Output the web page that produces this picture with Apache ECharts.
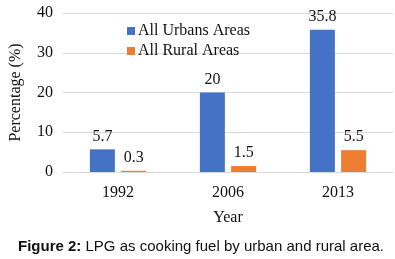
<!DOCTYPE html>
<html>
<head>
<meta charset="utf-8">
<script src="https://cdn.jsdelivr.net/npm/echarts@6/dist/echarts.min.js"></script>
<style>
  html, body { margin: 0; padding: 0; background: #fff; }
  #chart { width: 395px; height: 259px; }
</style>
</head>
<body>
<div id="chart"></div>
<script>
var years = ["1992", "2006", "2013"];
var urbanValues = [5.7, 20, 35.8];
var ruralValues = [0.3, 1.5, 5.5];
var yTicks = [0, 10, 20, 30, 40];

var chartDom = document.getElementById("chart");
var myChart = echarts.init(chartDom);
var option;

var serif = "Liberation Serif";

option = {
  animation: false,
  title: {
    text: "{b|Figure 2:} LPG as cooking fuel by urban and rural area.",
    left: 13,
    top: 234,
    textStyle: {
      rich: {
        b: { fontFamily: "Liberation Sans", fontWeight: "bold", fontSize: 15, color: "#111" },
      },
      fontFamily: "Liberation Sans",
      fontWeight: "normal",
      fontSize: 15,
      color: "#111",
    },
  },
  legend: {
    orient: "vertical",
    left: 122,
    top: 18,
    itemWidth: 8,
    itemHeight: 8,
    itemGap: 4,
    icon: "rect",
    textStyle: { fontFamily: serif, fontSize: 16, color: "#111", padding: [0, 0, 0, -2] },
    data: ["All Urbans Areas", "All Rural Areas"],
  },
  grid: {
    left: 57,
    right: 2,
    top: 13,
    bottom: 87,
  },
  xAxis: {
    type: "category",
    data: years,
    name: "Year",
    nameLocation: "middle",
    nameGap: 38,
    nameTextStyle: { fontFamily: serif, fontSize: 16, color: "#111" },
    axisLine: { lineStyle: { color: "#d9d9d9" } },
    axisTick: { show: false },
    axisLabel: { fontFamily: serif, fontSize: 16, color: "#111", margin: 13 },
  },
  yAxis: {
    type: "value",
    min: yTicks[0],
    max: yTicks[yTicks.length - 1],
    interval: 10,
    name: "Percentage (%)",
    nameLocation: "middle",
    nameGap: 39,
    nameTextStyle: { fontFamily: serif, fontSize: 16, color: "#111" },
    axisLine: { show: false },
    axisTick: { show: false },
    axisLabel: { fontFamily: serif, fontSize: 16, color: "#111", margin: 10 },
    splitLine: { lineStyle: { color: "#d9d9d9" } },
  },
  series: [
    {
      name: "All Urbans Areas",
      type: "bar",
      barWidth: 25,
      barGap: "25%",
      color: "#4472C4",
      data: urbanValues,
      label: {
        show: true,
        position: "top",
        distance: 5,
        fontFamily: serif,
        fontSize: 16,
        color: "#111",
      },
    },
    {
      name: "All Rural Areas",
      type: "bar",
      barWidth: 25,
      color: "#ED7D31",
      data: ruralValues,
      label: {
        show: true,
        position: "top",
        distance: 5,
        fontFamily: serif,
        fontSize: 16,
        color: "#111",
      },
    },
  ],
};

option && myChart.setOption(option);
</script>
</body>
</html>
